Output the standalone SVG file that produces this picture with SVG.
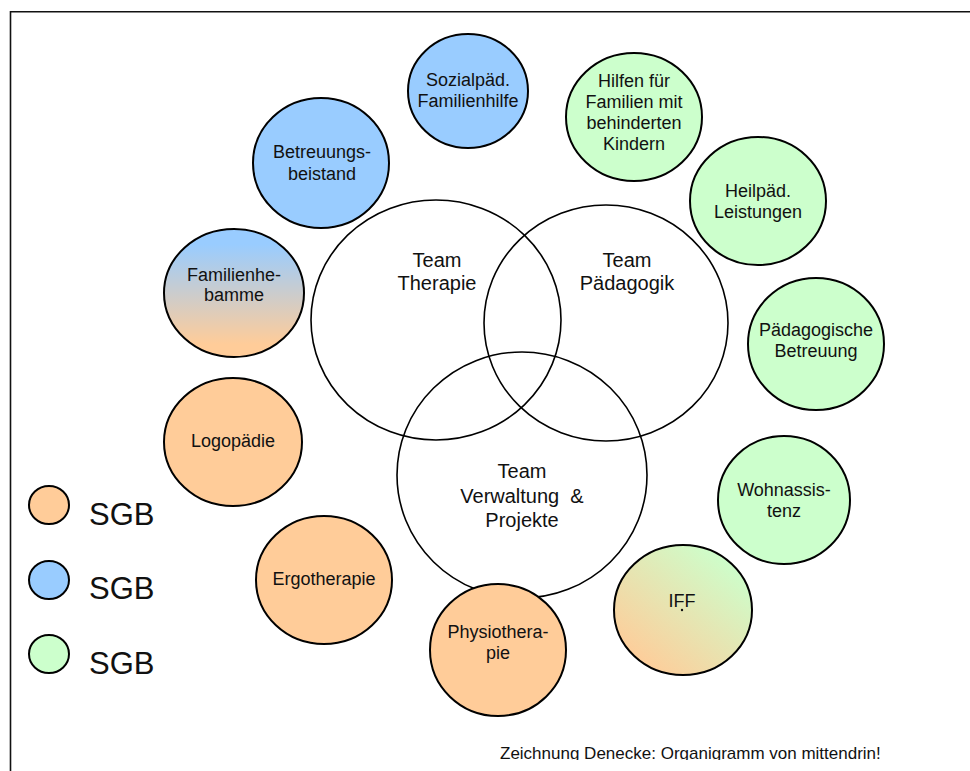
<svg xmlns="http://www.w3.org/2000/svg" width="970" height="771" viewBox="0 0 970 771">
  <style>
    .node { stroke: #000; stroke-width: 2; }
    .team { fill: none; stroke: #000; stroke-width: 1.6; }
    .orange { fill: #FFCC99; }
    .blue { fill: #99CCFF; }
    .green { fill: #CCFFCC; }
    text { font-family: "Liberation Sans", Arial, sans-serif; fill: #111; text-anchor: middle; }
    .lbl { font-size: 18px; }
    .tl { font-size: 20px; }
    .leg { font-size: 31px; text-anchor: start; }
    .foot { font-size: 17px; text-anchor: start; }
  </style>
  <defs>
    <linearGradient id="gradHebamme" x1="0" y1="0" x2="0" y2="1">
      <stop offset="0.12" stop-color="#99CCFF"/>
      <stop offset="0.9" stop-color="#FFCC99"/>
    </linearGradient>
    <linearGradient id="gradIFF" x1="0.15" y1="0.9" x2="0.85" y2="0.1">
      <stop offset="0" stop-color="#FFCC99"/>
      <stop offset="1" stop-color="#CCFFCC"/>
    </linearGradient>
    <clipPath id="footClip">
      <rect x="0" y="0" width="970" height="760"/>
    </clipPath>
  </defs>

  <rect width="970" height="771" fill="#fff"/>
  <!-- outer frame -->
  <path d="M10.5 780 V11.7 H980" fill="none" stroke="#111" stroke-width="1.6"/>

  <!-- overlapping team circles (drawn first, service circles sit on top) -->
  <g id="team-therapie">
    <ellipse class="team" cx="436" cy="320" rx="125" ry="120"/>
    <text class="tl" x="437" y="267">Team</text>
    <text class="tl" x="437" y="290">Therapie</text>
  </g>
  <g id="team-paedagogik">
    <ellipse class="team" cx="606" cy="323" rx="122" ry="118"/>
    <text class="tl" x="627" y="267">Team</text>
    <text class="tl" x="627" y="290">Pädagogik</text>
  </g>
  <g id="team-verwaltung">
    <ellipse class="team" cx="522" cy="475" rx="125" ry="123"/>
    <text class="tl" x="522" y="478">Team</text>
    <text class="tl" x="522" y="503" xml:space="preserve">Verwaltung  &amp;</text>
    <text class="tl" x="522" y="527">Projekte</text>
  </g>

  <!-- service circles -->
  <g id="sozialpaed">
    <ellipse class="node blue" cx="468" cy="91" rx="60" ry="57"/>
    <text class="lbl" x="468" y="86">Sozialpäd.</text>
    <text class="lbl" x="468" y="107">Familienhilfe</text>
  </g>
  <g id="hilfen">
    <ellipse class="node green" cx="634" cy="117" rx="68" ry="64"/>
    <text class="lbl" x="634" y="87">Hilfen für</text>
    <text class="lbl" x="634" y="108">Familien mit</text>
    <text class="lbl" x="634" y="129">behinderten</text>
    <text class="lbl" x="634" y="150">Kindern</text>
  </g>
  <g id="betreuungsbeistand">
    <ellipse class="node blue" cx="321" cy="163" rx="68" ry="65"/>
    <text class="lbl" x="322" y="158">Betreuungs-</text>
    <text class="lbl" x="322" y="180">beistand</text>
  </g>
  <g id="heilpaed">
    <ellipse class="node green" cx="758" cy="201" rx="68" ry="64"/>
    <text class="lbl" x="758" y="197">Heilpäd.</text>
    <text class="lbl" x="758" y="218">Leistungen</text>
  </g>
  <g id="familienhebamme">
    <ellipse class="node" fill="url(#gradHebamme)" cx="234" cy="293" rx="70" ry="64"/>
    <text class="lbl" x="234" y="281">Familienhe-</text>
    <text class="lbl" x="234" y="301">bamme</text>
  </g>
  <g id="paedbetreuung">
    <ellipse class="node green" cx="816" cy="344" rx="68" ry="66"/>
    <text class="lbl" x="816" y="336">Pädagogische</text>
    <text class="lbl" x="816" y="357">Betreuung</text>
  </g>
  <g id="logopaedie">
    <ellipse class="node orange" cx="233" cy="442" rx="69" ry="64"/>
    <text class="lbl" x="233" y="447">Logopädie</text>
  </g>
  <g id="wohnassistenz">
    <ellipse class="node green" cx="784" cy="500" rx="66" ry="64"/>
    <text class="lbl" x="784" y="496">Wohnassis-</text>
    <text class="lbl" x="784" y="517">tenz</text>
  </g>
  <g id="ergotherapie">
    <ellipse class="node orange" cx="324" cy="580" rx="68" ry="64"/>
    <text class="lbl" x="324" y="585">Ergotherapie</text>
  </g>
  <g id="iff">
    <ellipse class="node" fill="url(#gradIFF)" cx="683" cy="610" rx="69" ry="65"/>
    <text class="lbl" x="682" y="607">IFF</text>
    <circle cx="682" cy="610" r="1.2" fill="#111"/>
  </g>
  <g id="physiotherapie">
    <ellipse class="node orange" cx="498" cy="650" rx="68" ry="66"/>
    <text class="lbl" x="498" y="638">Physiothera-</text>
    <text class="lbl" x="498" y="659">pie</text>
  </g>

  <!-- legend -->
  <g id="legend">
    <ellipse class="node orange" cx="49" cy="505" rx="20" ry="19"/>
    <text class="leg" x="89" y="525">SGB</text>
    <ellipse class="node blue" cx="49" cy="580" rx="20" ry="19"/>
    <text class="leg" x="89" y="599">SGB</text>
    <ellipse class="node green" cx="49" cy="654" rx="20" ry="19"/>
    <text class="leg" x="89" y="674">SGB</text>
  </g>

  <!-- connectors: none drawn in this chart -->
  <g id="connectors"/>

  <text class="foot" x="500" y="759" clip-path="url(#footClip)">Zeichnung Denecke: Organigramm von mittendrin!</text>
</svg>
